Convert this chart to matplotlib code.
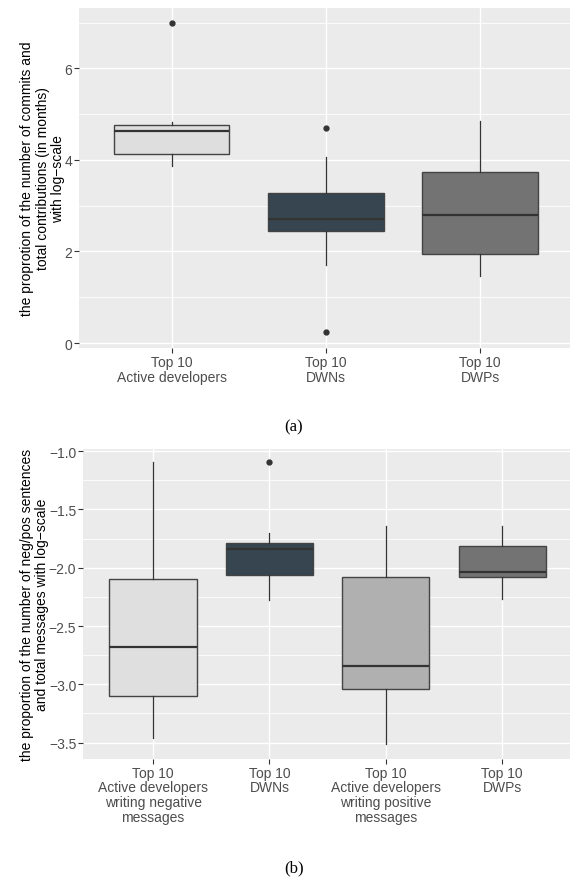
import matplotlib
matplotlib.use("Agg")
import matplotlib.pyplot as plt
from matplotlib.ticker import MultipleLocator

plt.rcParams['font.family'] = ['Liberation Sans', 'DejaVu Sans']

# (a) commits / contributions, log-scale
a_labels = ['Top 10\nActive developers', 'Top 10\nDWNs', 'Top 10\nDWPs']
a_q1 = [4.13, 2.44, 1.94]
a_med = [4.62, 2.70, 2.80]
a_q3 = [4.77, 3.28, 3.74]
a_lo = [3.87, 1.71, 1.47]
a_hi = [4.83, 4.07, 4.84]
a_out = [[6.99], [4.69, 0.23], []]
a_fill = ['#dedede', '#36454f', '#737373']

# (b) neg/pos sentences vs total messages, log-scale
b_labels = ['Top 10\nActive developers\nwriting negative\nmessages', 'Top 10\nDWNs',
            'Top 10\nActive developers\nwriting positive\nmessages', 'Top 10\nDWPs']
b_q1 = [-3.10, -2.06, -3.04, -2.08]
b_med = [-2.68, -1.84, -2.84, -2.04]
b_q3 = [-2.10, -1.79, -2.08, -1.81]
b_lo = [-3.46, -2.28, -3.51, -2.27]
b_hi = [-1.09, -1.70, -1.64, -1.64]
b_out = [[], [-1.09], [], []]
b_fill = ['#dfdfdf', '#36454f', '#b0b0b0', '#737373']


def draw_panel(ax, labels, q1, med, q3, lo, hi, out, fills):
    stats = []
    for i in range(len(labels)):
        stats.append(dict(q1=q1[i], med=med[i], q3=q3[i], whislo=lo[i],
                          whishi=hi[i], fliers=out[i]))
    pos = list(range(1, len(labels) + 1))
    bp = ax.bxp(stats, positions=pos, widths=0.75, patch_artist=True,
                showcaps=False, zorder=3,
                boxprops=dict(edgecolor='#444444', linewidth=1.0),
                medianprops=dict(color='#333333', linewidth=1.6),
                whiskerprops=dict(color='#333333', linewidth=0.9),
                flierprops=dict(marker='o', markerfacecolor='#333333',
                                markeredgecolor='#333333', markersize=3.5))
    for patch, c in zip(bp['boxes'], fills):
        patch.set_facecolor(c)
    ax.set_facecolor('#ebebeb')
    for s in ax.spines.values():
        s.set_visible(False)
    ax.set_xticks(pos)
    ax.set_xticklabels(labels)
    for lbl in ax.get_xticklabels():
        lbl.set_linespacing(1.05)
    ax.set_xlim(0.4, len(labels) + 0.6)
    ax.grid(True, which='major', color='white', linewidth=1.0, zorder=0)
    ax.grid(True, which='minor', axis='y', color='white', linewidth=0.6, zorder=0)
    ax.set_axisbelow(True)
    ax.tick_params(which='major', length=3.5, width=0.8, color='#333333',
                   labelsize=10, labelcolor='#4d4d4d', pad=1.5)
    ax.tick_params(which='minor', length=0)


fig = plt.figure(figsize=(5.7, 8.79), dpi=100)

ax1 = fig.add_axes([0.1386, 0.6026, 0.866, 0.3875])
draw_panel(ax1, a_labels, a_q1, a_med, a_q3, a_lo, a_hi, a_out, a_fill)
ax1.set_ylim(-0.116, 7.324)
ax1.set_yticks([0, 2, 4, 6])
ax1.set_yticklabels(['0', '2', '4', '6'])
ax1.yaxis.set_minor_locator(MultipleLocator(1))
fig.text(0.0746, 0.7964,
         'the proprotion of the number of commits and\ntotal contributions (in months)\nwith log\u2212scale',
         rotation=90, ha='center', va='center', fontsize=10, linespacing=1.15)

ax2 = fig.add_axes([0.1461, 0.1354, 0.8574, 0.3526])
draw_panel(ax2, b_labels, b_q1, b_med, b_q3, b_lo, b_hi, b_out, b_fill)
ax2.set_ylim(-3.64, -0.983)
yt = [-1.0, -1.5, -2.0, -2.5, -3.0, -3.5]
ax2.set_yticks(yt)
ax2.set_yticklabels([('%.1f' % v).replace('-', '\u2212') for v in yt])
ax2.yaxis.set_minor_locator(MultipleLocator(0.25))
fig.text(0.0605, 0.3117,
         'the proportion of the number of neg/pos sentences\nand total messages with log\u2212scale',
         rotation=90, ha='center', va='center', fontsize=10, linespacing=1.15)

fig.text(0.5158, 0.5142, '(a)', ha='center', va='center', fontsize=12,
         family='Liberation Serif')
fig.text(0.5158, 0.0125, '(b)', ha='center', va='center', fontsize=12,
         family='Liberation Serif')

fig.savefig('out.png', dpi=100)
